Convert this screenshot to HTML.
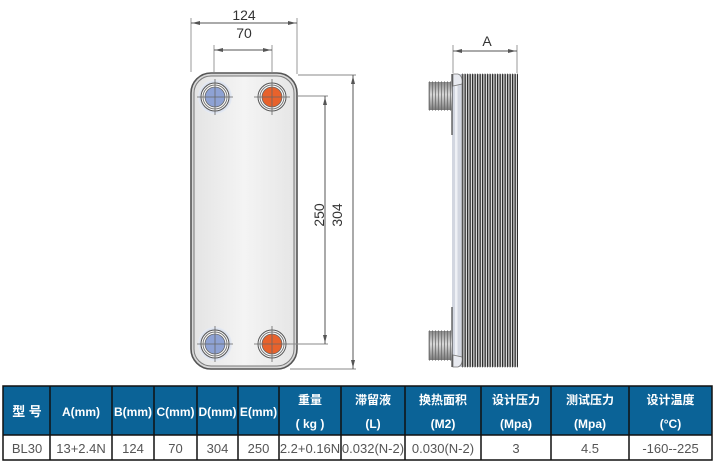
<!DOCTYPE html>
<html>
<head>
<meta charset="utf-8">
<style>
  html,body{margin:0;padding:0;background:#fff;}
  body{width:717px;height:465px;overflow:hidden;position:relative;}
  svg{position:absolute;left:0;top:0;}
  .dim{font-family:"Liberation Sans",Arial,sans-serif;font-size:14px;fill:#333;}
  .th{font-family:"Liberation Sans","Noto Sans CJK SC",sans-serif;font-size:12px;fill:#fff;font-weight:bold;}
  .td{font-family:"Liberation Sans","Noto Sans CJK SC",sans-serif;font-size:13px;fill:#555;}
</style>
</head>
<body>
<svg width="717" height="465" viewBox="0 0 717 465" xmlns="http://www.w3.org/2000/svg">
  <defs>
    <linearGradient id="plate" x1="0" y1="0" x2="1" y2="0">
      <stop offset="0" stop-color="#e4e4e4"/>
      <stop offset="0.5" stop-color="#f4f4f4"/>
      <stop offset="1" stop-color="#e6e6e6"/>
    </linearGradient>
    <linearGradient id="thread" x1="0" y1="0" x2="0" y2="1">
      <stop offset="0" stop-color="#8a8a8a"/>
      <stop offset="0.45" stop-color="#d8d8d8"/>
      <stop offset="1" stop-color="#7a7a7a"/>
    </linearGradient>
    <pattern id="fin" x="462" y="0" width="2.5" height="10" patternUnits="userSpaceOnUse">
      <rect width="2.5" height="10" fill="#dcdcdc"/>
      <rect width="1.3" height="10" fill="#2e2e2e"/>
    </pattern>
    <pattern id="thr" x="429" y="0" width="3" height="10" patternUnits="userSpaceOnUse">
      <rect width="1" height="10" fill="#666" opacity="0.7"/>
    </pattern>
    <radialGradient id="halo">
      <stop offset="0.6" stop-color="#b8c4dc"/>
      <stop offset="1" stop-color="#e8ecf4"/>
    </radialGradient>
  </defs>

  <!-- ================= FRONT VIEW ================= -->
  <g stroke="#9a9a9a" stroke-width="1">
    <line x1="191" y1="18" x2="191" y2="72"/>
    <line x1="297" y1="18" x2="297" y2="74"/>
    <line x1="214" y1="45" x2="214" y2="72"/>
    <line x1="272" y1="45" x2="272" y2="72"/>
  </g>
  <g stroke="#555" stroke-width="1">
    <line x1="191" y1="23" x2="297" y2="23"/>
    <line x1="214" y1="50" x2="272" y2="50"/>
  </g>
  <g fill="#555">
    <polygon points="192,23 200,21 200,25"/>
    <polygon points="296,23 288,21 288,25"/>
    <polygon points="215,50 223,48 223,52"/>
    <polygon points="271,50 263,48 263,52"/>
  </g>
  <text class="dim" x="244" y="20" text-anchor="middle">124</text>
  <text class="dim" x="244" y="38" text-anchor="middle">70</text>

  <!-- plate -->
  <rect x="191" y="73" width="106" height="296" rx="20" ry="20" fill="#d8d8d8" stroke="#555" stroke-width="1.6"/>
  <rect x="194" y="76" width="100" height="290" rx="17" ry="17" fill="url(#plate)" stroke="#7a7a7a" stroke-width="1"/>

  <!-- ports -->
  <g>
    <circle cx="215" cy="97" r="17" fill="url(#halo)"/>
    <circle cx="215" cy="97" r="14" fill="#fff" stroke="#555" stroke-width="1"/>
    <circle cx="215" cy="97" r="12" fill="#fff" stroke="#777" stroke-width="1"/>
    <circle cx="215" cy="97" r="10" fill="#8ea2d4" stroke="#666" stroke-width="0.8"/>
    <circle cx="272" cy="97" r="14" fill="#fff" stroke="#555" stroke-width="1"/>
    <circle cx="272" cy="97" r="12" fill="#fff" stroke="#777" stroke-width="1"/>
    <circle cx="272" cy="97" r="10" fill="#e8622c" stroke="#666" stroke-width="0.8"/>
    <circle cx="215" cy="344" r="17" fill="url(#halo)"/>
    <circle cx="215" cy="344" r="14" fill="#fff" stroke="#555" stroke-width="1"/>
    <circle cx="215" cy="344" r="12" fill="#fff" stroke="#777" stroke-width="1"/>
    <circle cx="215" cy="344" r="10" fill="#8ea2d4" stroke="#666" stroke-width="0.8"/>
    <circle cx="272" cy="344" r="14" fill="#fff" stroke="#555" stroke-width="1"/>
    <circle cx="272" cy="344" r="12" fill="#fff" stroke="#777" stroke-width="1"/>
    <circle cx="272" cy="344" r="10" fill="#e8622c" stroke="#666" stroke-width="0.8"/>
  </g>
  <g stroke="#666" stroke-width="0.8">
    <line x1="197" y1="97" x2="233" y2="97"/><line x1="215" y1="79" x2="215" y2="115"/>
    <line x1="254" y1="97" x2="290" y2="97"/><line x1="272" y1="79" x2="272" y2="115"/>
    <line x1="197" y1="344" x2="233" y2="344"/><line x1="215" y1="326" x2="215" y2="362"/>
    <line x1="254" y1="344" x2="290" y2="344"/><line x1="272" y1="326" x2="272" y2="362"/>
  </g>

  <!-- right dimensions -->
  <g stroke="#8a8a8a" stroke-width="1">
    <line x1="298" y1="75" x2="356" y2="75"/>
    <line x1="290" y1="369" x2="356" y2="369"/>
    <line x1="298" y1="96" x2="328" y2="96"/>
    <line x1="290" y1="344" x2="328" y2="344"/>
  </g>
  <g stroke="#555" stroke-width="1">
    <line x1="353" y1="75" x2="353" y2="369"/>
    <line x1="325" y1="96" x2="325" y2="344"/>
  </g>
  <g fill="#555">
    <polygon points="353,76 351,84 355,84"/>
    <polygon points="353,368 351,360 355,360"/>
    <polygon points="325,97 323,105 327,105"/>
    <polygon points="325,343 323,335 327,335"/>
  </g>
  <text class="dim" transform="translate(324,215) rotate(-90)" text-anchor="middle">250</text>
  <text class="dim" transform="translate(342,215) rotate(-90)" text-anchor="middle">304</text>

  <!-- ================= SIDE VIEW ================= -->
  <g stroke="#9a9a9a" stroke-width="1">
    <line x1="453" y1="45" x2="453" y2="73"/>
    <line x1="517" y1="45" x2="517" y2="73"/>
  </g>
  <line x1="453" y1="51" x2="517" y2="51" stroke="#555" stroke-width="1"/>
  <g fill="#555">
    <polygon points="454,51 462,49 462,53"/>
    <polygon points="516,51 508,49 508,53"/>
  </g>
  <text class="dim" x="487" y="46" text-anchor="middle">A</text>

  <!-- fins -->
  <rect x="462" y="74" width="56" height="293" fill="url(#fin)"/>
  <line x1="462" y1="74" x2="518" y2="74" stroke="#666" stroke-width="0.8" stroke-dasharray="1 1.5"/>
  <line x1="462" y1="367" x2="518" y2="367" stroke="#666" stroke-width="0.8" stroke-dasharray="1 1.5"/>
  <!-- end plate -->
  <rect x="452" y="74" width="10" height="293" fill="#d2d6e0"/>
  <rect x="455" y="80" width="2.5" height="281" fill="#eef0f5"/>
  <line x1="462" y1="74" x2="462" y2="367" stroke="#888" stroke-width="0.8"/>
  <path d="M453,74 L458,74 Q463,76 462,84 L453,86 Z" fill="#e8eaf0" stroke="#777" stroke-width="0.8"/>
  <path d="M453,367 L458,367 Q463,365 462,357 L453,355 Z" fill="#e8eaf0" stroke="#777" stroke-width="0.8"/>
  <g stroke="#444" stroke-width="1.2">
    <line x1="452" y1="74" x2="452" y2="135"/>
    <line x1="452" y1="307" x2="452" y2="367"/>
  </g>

  <!-- threads -->
  <rect x="429" y="82" width="23" height="28" fill="url(#thread)"/>
  <rect x="429" y="82" width="23" height="28" fill="url(#thr)"/>
  <line x1="429" y1="82" x2="452" y2="82" stroke="#666" stroke-width="1" stroke-dasharray="1 2"/>
  <line x1="429" y1="110" x2="452" y2="110" stroke="#666" stroke-width="1" stroke-dasharray="1 2"/>
  <line x1="429" y1="82" x2="429" y2="110" stroke="#777" stroke-width="0.8"/>

  <rect x="429" y="331" width="23" height="29" fill="url(#thread)"/>
  <rect x="429" y="331" width="23" height="29" fill="url(#thr)"/>
  <line x1="429" y1="331" x2="452" y2="331" stroke="#666" stroke-width="1" stroke-dasharray="1 2"/>
  <line x1="429" y1="360" x2="452" y2="360" stroke="#666" stroke-width="1" stroke-dasharray="1 2"/>
  <line x1="429" y1="331" x2="429" y2="360" stroke="#777" stroke-width="0.8"/>

  <!-- ================= TABLE ================= -->
  <rect x="3" y="386" width="709" height="49" fill="#0b6397"/>
  <rect x="3" y="435" width="709" height="25" fill="#fff"/>
  <g stroke="#111" stroke-width="1.5" fill="none">
    <rect x="3" y="386" width="709" height="74"/>
    <line x1="3" y1="435" x2="712" y2="435"/>
    <line x1="50" y1="386" x2="50" y2="460"/>
    <line x1="112" y1="386" x2="112" y2="460"/>
    <line x1="154" y1="386" x2="154" y2="460"/>
    <line x1="197" y1="386" x2="197" y2="460"/>
    <line x1="238" y1="386" x2="238" y2="460"/>
    <line x1="279" y1="386" x2="279" y2="460"/>
    <line x1="341" y1="386" x2="341" y2="460"/>
    <line x1="405" y1="386" x2="405" y2="460"/>
    <line x1="481" y1="386" x2="481" y2="460"/>
    <line x1="551" y1="386" x2="551" y2="460"/>
    <line x1="629" y1="386" x2="629" y2="460"/>
  </g>

  <!-- header text -->
  <text class="th" x="27" y="416" text-anchor="middle" style="font-size:13px">型 号</text>
  <text class="th" x="81" y="416" text-anchor="middle">A(mm)</text>
  <text class="th" x="133" y="416" text-anchor="middle">B(mm)</text>
  <text class="th" x="175.5" y="416" text-anchor="middle">C(mm)</text>
  <text class="th" x="217.5" y="416" text-anchor="middle">D(mm)</text>
  <text class="th" x="258.5" y="416" text-anchor="middle">E(mm)</text>

  <text class="th" x="310" y="404" text-anchor="middle">重量</text>
  <text class="th" x="310" y="428" text-anchor="middle">( kg )</text>
  <text class="th" x="373" y="404" text-anchor="middle">滞留液</text>
  <text class="th" x="373" y="428" text-anchor="middle">(L)</text>
  <text class="th" x="443" y="404" text-anchor="middle">换热面积</text>
  <text class="th" x="443" y="428" text-anchor="middle">(M2)</text>
  <text class="th" x="516" y="404" text-anchor="middle">设计压力</text>
  <text class="th" x="516" y="428" text-anchor="middle">(Mpa)</text>
  <text class="th" x="590" y="404" text-anchor="middle">测试压力</text>
  <text class="th" x="590" y="428" text-anchor="middle">(Mpa)</text>
  <text class="th" x="670.5" y="404" text-anchor="middle">设计温度</text>
  <text class="th" x="670.5" y="428" text-anchor="middle">(°C)</text>

  <!-- body text -->
  <text class="td" x="27" y="453" text-anchor="middle">BL30</text>
  <text class="td" x="81" y="453" text-anchor="middle">13+2.4N</text>
  <text class="td" x="133" y="453" text-anchor="middle">124</text>
  <text class="td" x="175.5" y="453" text-anchor="middle">70</text>
  <text class="td" x="217.5" y="453" text-anchor="middle">304</text>
  <text class="td" x="258.5" y="453" text-anchor="middle">250</text>
  <text class="td" x="310" y="453" text-anchor="middle">2.2+0.16N</text>
  <text class="td" x="373" y="453" text-anchor="middle">0.032(N-2)</text>
  <text class="td" x="443" y="453" text-anchor="middle">0.030(N-2)</text>
  <text class="td" x="516" y="453" text-anchor="middle">3</text>
  <text class="td" x="590" y="453" text-anchor="middle">4.5</text>
  <text class="td" x="670.5" y="453" text-anchor="middle">-160--225</text>
</svg>
</body>
</html>
